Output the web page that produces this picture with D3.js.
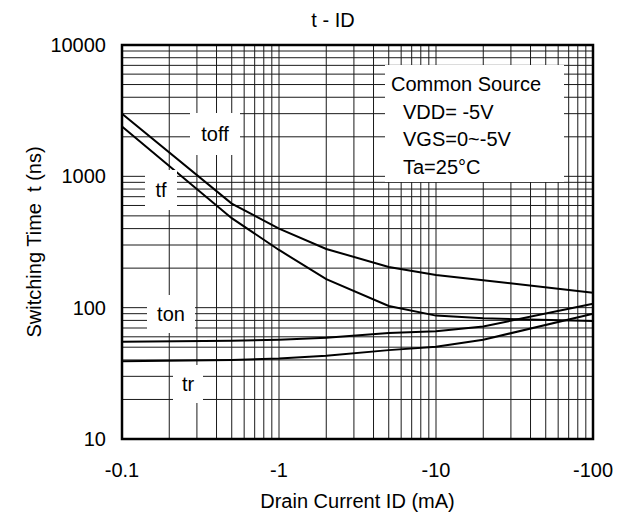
<!DOCTYPE html>
<html>
<head>
<meta charset="utf-8">
<style>
    body { margin: 0; background: #fff; }
    svg { display: block; font-family: "Liberation Sans", Arial, sans-serif; }
    .grid line { stroke: #1a1a1a; stroke-width: 1; }
    .curve { fill: none; stroke: #000; stroke-width: 2; }
</style>
</head>
<body>
<svg width="630" height="517"></svg>
<script src="https://d3js.org/d3.v7.min.js"></script>
<script>
    // |ID| in mA (axis shows them as negative values)
    var currents = [0.1, 0.5, 1, 2, 5, 10, 20, 100];
    var toff = [3000, 620, 400, 280, 204, 177, 162, 130];
    var tf   = [2400, 480, 275, 165, 103, 87, 83, 79];
    var ton  = [55, 56, 57, 59, 64, 66, 72, 107];
    var tr   = [39, 40, 41, 43, 47.5, 50.5, 57, 90];

    var xTicks = [0.1, 1, 10, 100];
    var yTicks = [10, 100, 1000, 10000];
    var legendLines = ["Common Source", "VDD= -5V", "VGS=0~-5V", "Ta=25°C"];

    var svg = d3.select("svg"),
        margin = {top: 45, right: 37, bottom: 78, left: 122},
        width = +svg.attr("width") - margin.left - margin.right,
        height = +svg.attr("height") - margin.top - margin.bottom,
        g = svg.append("g").attr("transform", "translate(" + margin.left + "," + margin.top + ")");

    var x = d3.scaleLog().domain([0.1, 100]).range([0, width]);
    var y = d3.scaleLog().domain([10, 10000]).range([height, 0]);

    // minor grid values 1..9 per decade
    function gridVals(lo, hi) {
        var out = [];
        for (var d = lo; d < hi; d *= 10)
            for (var k = 1; k <= 9; k++) out.push(+(d * k).toPrecision(3));
        out.push(hi);
        return out;
    }

    var grid = g.append("g").attr("class", "grid");
    grid.selectAll(".v").data(gridVals(0.1, 100)).enter().append("line")
        .attr("x1", function(d) { return x(d); })
        .attr("x2", function(d) { return x(d); })
        .attr("y1", 0).attr("y2", height);
    grid.selectAll(".h").data(gridVals(10, 10000)).enter().append("line")
        .attr("y1", function(d) { return y(d); })
        .attr("y2", function(d) { return y(d); })
        .attr("x1", 0).attr("x2", width);

    // white boxes that break the grid behind the labels (pixel layout)
    var labels = [
        {text: "toff", cx: 215, cy: 134, w: 50, h: 42},
        {text: "tf",   cx: 161, cy: 190, w: 32, h: 40},
        {text: "ton",  cx: 171, cy: 314, w: 48, h: 38},
        {text: "tr",   cx: 188, cy: 384, w: 30, h: 38}
    ];
    svg.selectAll(".lblbox").data(labels).enter().append("rect")
        .attr("x", function(d) { return d.cx - d.w / 2; })
        .attr("y", function(d) { return d.cy - d.h / 2; })
        .attr("width", function(d) { return d.w; })
        .attr("height", function(d) { return d.h; })
        .attr("fill", "#fff");

    // legend box
    svg.append("rect")
        .attr("x", 385).attr("y", 65)
        .attr("width", 179).attr("height", 117)
        .attr("fill", "#fff");

    var line = d3.line()
        .x(function(d) { return x(d[0]); })
        .y(function(d) { return y(d[1]); });

    [toff, tf, ton, tr].forEach(function(s) {
        g.append("path")
            .attr("class", "curve")
            .attr("d", line(d3.zip(currents, s)));
    });

    // frame
    g.append("rect")
        .attr("width", width).attr("height", height)
        .attr("fill", "none").attr("stroke", "#000").attr("stroke-width", 2.5);

    svg.selectAll(".lbl").data(labels).enter().append("text")
        .attr("x", function(d) { return d.cx; })
        .attr("y", function(d) { return d.cy; })
        .attr("dy", "0.35em")
        .attr("text-anchor", "middle")
        .attr("font-size", 20)
        .text(function(d) { return d.text; });

    svg.selectAll(".leg").data(legendLines).enter().append("text")
        .attr("x", function(d, i) { return i == 0 ? 391 : 403; })
        .attr("y", function(d, i) { return 91 + i * 27.5; })
        .attr("font-size", 20)
        .text(function(d) { return d; });

    // tick labels
    g.selectAll(".xt").data(xTicks).enter().append("text")
        .attr("x", function(d) { return x(d); })
        .attr("y", height + 38)
        .attr("text-anchor", "middle")
        .attr("font-size", 20)
        .text(function(d) { return "-" + d; });

    g.selectAll(".yt").data(yTicks).enter().append("text")
        .attr("x", -16)
        .attr("y", function(d) { return y(d); })
        .attr("dy", "0.35em")
        .attr("text-anchor", "end")
        .attr("font-size", 20)
        .text(function(d) { return d; });

    svg.append("text")
        .attr("x", 333).attr("y", 27)
        .attr("text-anchor", "middle")
        .attr("font-size", 20)
        .text("t - ID");

    svg.append("text")
        .attr("x", margin.left + width / 2).attr("y", 508)
        .attr("text-anchor", "middle")
        .attr("font-size", 20)
        .text("Drain Current ID (mA)");

    svg.append("text")
        .attr("transform", "translate(41," + (margin.top + height / 2) + ") rotate(-90)")
        .attr("text-anchor", "middle")
        .attr("font-size", 20)
        .style("white-space", "pre")
        .text("Switching Time  t (ns)");
</script>
</body>
</html>
